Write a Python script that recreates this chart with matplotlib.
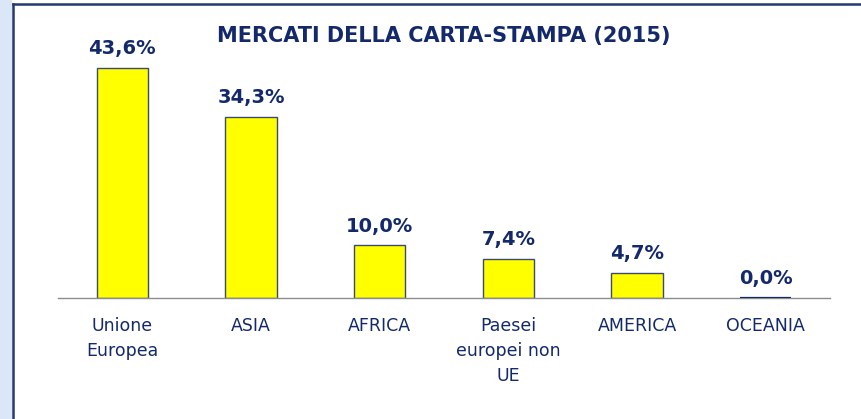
import matplotlib
matplotlib.use("Agg")
import matplotlib.pyplot as plt
from matplotlib.patches import Rectangle
from matplotlib.lines import Line2D

categories = ["Unione\nEuropea", "ASIA", "AFRICA", "Paesei\neuropei non\nUE", "AMERICA", "OCEANIA"]
values = [43.6, 34.3, 10.0, 7.4, 4.7, 0.0]
value_labels = ["43,6%", "34,3%", "10,0%", "7,4%", "4,7%", "0,0%"]
title = "MERCATI DELLA CARTA-STAMPA (2015)"

navy = "#13296b"
W, H = 862, 419

fig = plt.figure(figsize=(W / 100, H / 100), dpi=100)
fig.patch.set_facecolor("white")

# light blue strip on the left, and the frame of the chart box
fig.patches.append(Rectangle((0, 0), 12 / W, 1, transform=fig.transFigure,
                             facecolor="#dbe7f7", edgecolor="none", zorder=0))
fig.lines.append(Line2D([13 / W, 13 / W], [0, 1 - 4 / H], transform=fig.transFigure,
                        color="#24396e", lw=1.8))
fig.lines.append(Line2D([13 / W, 1], [1 - 4 / H, 1 - 4 / H], transform=fig.transFigure,
                        color="#24396e", lw=1.8))

ax = fig.add_axes([58 / W, 1 - 298 / H, (830 - 58) / W, (298 - 40) / H])
x = range(len(categories))
bars = ax.bar(x, values, width=0.4, color="#ffff00", edgecolor="#3b4a72", linewidth=1.0)
ax.set_xlim(-0.5, len(categories) - 0.5)
ax.set_ylim(0, 48.9)

for b, lab in zip(bars, value_labels):
    if b.get_height() == 0:
        # empty bar shows up as a dark stroke on the baseline
        b.set_edgecolor(navy)
        b.set_linewidth(1.6)
        b.set_zorder(3)
    ax.annotate(lab, (b.get_x() + b.get_width() / 2, b.get_height()),
                xytext=(0, 7), textcoords="offset points", ha="center", va="bottom",
                fontsize=14, fontweight="bold", color=navy)

ax.set_xticks(list(x))
ax.set_xticklabels(categories, fontsize=12.5, color=navy, linespacing=1.5)
ax.tick_params(axis="x", length=0, pad=14)
ax.set_yticks([])
for s in ["left", "right", "top"]:
    ax.spines[s].set_visible(False)
ax.spines["bottom"].set_color("#8c8c8c")
ax.spines["bottom"].set_linewidth(1.0)
ax.patch.set_alpha(0)

fig.text(444 / W, 1 - 36 / H, title, ha="center", va="center",
         fontsize=15, fontweight="bold", color=navy)

fig.savefig("out.png", dpi=100)
